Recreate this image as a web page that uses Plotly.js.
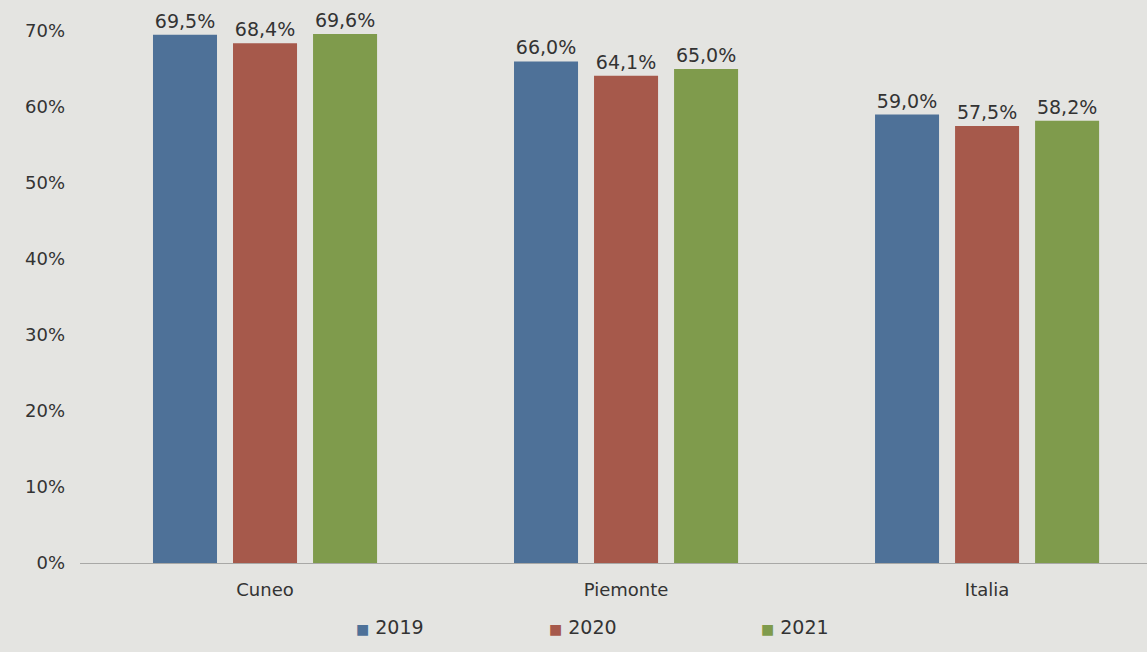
<!DOCTYPE html>
<html>
<head>
<meta charset="utf-8">
<script src="https://cdn.plot.ly/plotly-3.0.1.min.js"></script>
<style>
html,body{margin:0;padding:0;background:#e4e4e1;}
#chart{width:1147px;height:652px;}
</style>
</head>
<body>
<div id="chart"></div>
<script>
const categories = ["Cuneo", "Piemonte", "Italia"];
const years = ["2019", "2020", "2021"];
const values2019 = [69.5, 66.0, 59.0];
const values2020 = [68.4, 64.1, 57.5];
const values2021 = [69.6, 65.0, 58.2];
const yTicks = [0, 10, 20, 30, 40, 50, 60, 70];
const yTickLabels = ["0%", "10%", "20%", "30%", "40%", "50%", "60%", "70%"];

const seriesValues = [values2019, values2020, values2021];
const colors = ["#4e7198", "#a6594b", "#7f9b4c"];
const legendX = [0.2567, 0.4376, 0.6363];
const FONT = "DejaVu Sans, Verdana, sans-serif";

const traces = years.map((yr, i) => ({
  type: "bar",
  name: yr,
  x: categories,
  y: seriesValues[i],
  marker: {color: colors[i]},
  texttemplate: "%{y:.1f}%",
  textposition: "outside",
  cliponaxis: false,
  textfont: {family: FONT, size: 19, color: "#333"},
  hoverinfo: "skip",
  showlegend: false
}));

const legendAnnotations = years.map((yr, i) => ({
  xref: "paper", yref: "paper",
  x: legendX[i], y: -0.1203,
  xanchor: "left", yanchor: "middle",
  showarrow: false,
  text: "<span style='color:" + colors[i] + ";font-size:14px'>■</span> " + yr,
  font: {family: FONT, size: 19, color: "#333"}
}));

const layout = {
  width: 1147, height: 652,
  paper_bgcolor: "#e4e4e1",
  plot_bgcolor: "#e4e4e1",
  separators: ",.",
  margin: {l: 80, r: 0, t: 31, b: 89},
  barmode: "group",
  bargap: 0.335,
  bargroupgap: 0.2,
  font: {family: FONT, color: "#333"},
  xaxis: {
    type: "category",
    range: [-0.5125, 2.443],
    showgrid: false,
    showline: true,
    linecolor: "#a8a8a6",
    linewidth: 1,
    ticks: "",
    ticklabelstandoff: 10,
    tickfont: {size: 18, color: "#333"}
  },
  yaxis: {
    range: [0, 70],
    tickmode: "array",
    tickvals: yTicks,
    ticktext: yTickLabels,
    showgrid: false,
    zeroline: false,
    showline: false,
    ticks: "",
    ticklabelstandoff: 14,
    tickfont: {size: 18, color: "#333"}
  },
  showlegend: false,
  annotations: legendAnnotations
};

Plotly.newPlot("chart", traces, layout, {staticPlot: true, displayModeBar: false});
</script>
</body>
</html>
